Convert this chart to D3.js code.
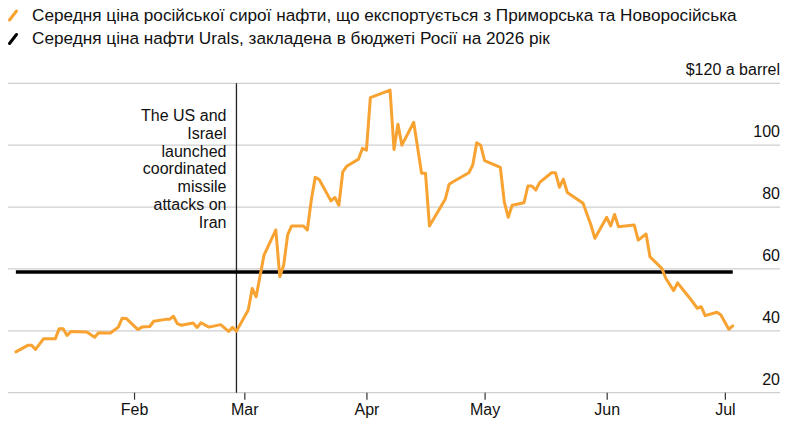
<!DOCTYPE html>
<html>
<head>
<meta charset="utf-8">
<script src="https://cdn.jsdelivr.net/npm/d3@7"></script>
<style>
  body { margin: 0; background: #fff; }
  svg text { font-family: "Liberation Sans", Arial, sans-serif; fill: #111; }
</style>
</head>
<body>
<svg id="chart"></svg>
<script>
// data
var priceDates = [
  "2026-01-02","2026-01-05","2026-01-06","2026-01-07","2026-01-09","2026-01-12","2026-01-13","2026-01-14",
  "2026-01-15","2026-01-16","2026-01-20","2026-01-22","2026-01-23","2026-01-26","2026-01-28","2026-01-29",
  "2026-01-30","2026-02-02","2026-02-03","2026-02-05","2026-02-06","2026-02-09","2026-02-10","2026-02-11",
  "2026-02-12","2026-02-13","2026-02-16","2026-02-17","2026-02-18","2026-02-20","2026-02-23","2026-02-25",
  "2026-02-26","2026-02-27","2026-03-02","2026-03-03","2026-03-04","2026-03-06","2026-03-09","2026-03-10",
  "2026-03-11","2026-03-12","2026-03-13","2026-03-16","2026-03-17","2026-03-18","2026-03-19","2026-03-20",
  "2026-03-23","2026-03-24","2026-03-25","2026-03-26","2026-03-27","2026-03-30","2026-03-31","2026-04-01",
  "2026-04-02","2026-04-07","2026-04-08","2026-04-09","2026-04-10","2026-04-13","2026-04-15","2026-04-16",
  "2026-04-17","2026-04-21","2026-04-22","2026-04-23","2026-04-27","2026-04-28","2026-04-29","2026-04-30",
  "2026-05-01","2026-05-05","2026-05-06","2026-05-07","2026-05-08","2026-05-11","2026-05-12","2026-05-13",
  "2026-05-14","2026-05-15","2026-05-18","2026-05-19","2026-05-20","2026-05-21","2026-05-22","2026-05-26",
  "2026-05-27","2026-05-28","2026-05-29","2026-06-01","2026-06-02","2026-06-03","2026-06-04","2026-06-08",
  "2026-06-09","2026-06-11","2026-06-12","2026-06-15","2026-06-16","2026-06-18","2026-06-19","2026-06-22",
  "2026-06-24","2026-06-25","2026-06-26","2026-06-29","2026-06-30","2026-07-02","2026-07-03"
]
var priceValues = [
  33.2,35.3,35.3,34.0,37.4,37.4,40.7,40.7,
  38.5,39.8,39.6,37.9,39.4,39.3,41.2,44.1,
  44.0,40.4,41.2,41.4,43.1,43.7,43.7,44.7,
  42.3,41.8,42.5,41.1,42.6,41.2,42.0,39.8,
  41.1,39.9,46.7,53.7,51.0,64.5,72.6,57.5,
  61.3,71.0,73.9,73.9,72.6,82.3,89.6,88.9,
  82.0,83.1,80.6,91.4,93.2,95.5,99.0,98.4,
  115.4,117.8,98.6,106.8,100.0,107.4,90.9,90.9,
  73.9,82.5,87.4,88.2,91.1,93.6,100.8,100.0,
  95.0,92.8,81.7,76.7,80.6,81.4,86.8,86.8,
  85.5,88.0,91.1,91.1,86.4,89.0,84.7,81.2,
  77.7,74.2,69.9,76.7,73.9,77.6,73.6,74.2,
  69.3,71.3,63.9,60.2,57.0,53.0,55.5,50.7,
  47.3,47.8,44.9,46.0,45.1,40.5,41.6
]
var budgetPrice = 59
var eventDate = "2026-02-27"
var eventLines = ["The US and", "Israel", "launched", "coordinated", "missile", "attacks on", "Iran"]
var yTicks = [20, 40, 60, 80, 100, 120]
var monthTicks = ["2026-02-01","2026-03-01","2026-04-01","2026-05-01","2026-06-01","2026-07-01"]
var legendLabels = [
  "Середня ціна російської сирої нафти, що експортується з Приморська та Новоросійська",
  "Середня ціна нафти Urals, закладена в бюджеті Росії на 2026 рік"
]
var legendColors = ["#f8a231", "#000"]

var outerWidth = 802, outerHeight = 425
var margins = {top: 83.3, right: 22, bottom: 32.3, left: 8}
var parseDate = d3.utcParse("%Y-%m-%d")

var svg = d3.select("svg#chart")
  .attr("width", outerWidth)
  .attr("height", outerHeight)

var xScale = d3.scaleUtc()
  .domain([parseDate("2025-12-31"), parseDate("2026-07-15")])
  .range([margins.left, outerWidth - margins.right])

var yScale = d3.scaleLinear()
  .domain([20, 120])
  .range([outerHeight - margins.bottom, margins.top])

var data = priceDates.map(function(d, i) {
  return {date: parseDate(d), value: priceValues[i]}
})

// gridlines
svg.append("g")
  .selectAll("line")
  .data(yTicks)
  .join("line")
  .attr("x1", margins.left)
  .attr("x2", outerWidth - margins.right)
  .attr("y1", function(d) { return yScale(d) })
  .attr("y2", function(d) { return yScale(d) })
  .attr("stroke", "#cfcfcf")
  .attr("stroke-width", 1.2)

// y labels, sitting above their gridlines
svg.append("g")
  .selectAll("text")
  .data(yTicks)
  .join("text")
  .attr("x", outerWidth - margins.right)
  .attr("y", function(d) { return yScale(d) - 8 })
  .attr("text-anchor", "end")
  .style("font-size", "16px")
  .text(function(d) { return d === 120 ? "$120 a barrel" : d })

// x axis ticks + month labels
var xAxis = d3.axisBottom(xScale)
  .tickValues(monthTicks.map(parseDate))
  .tickFormat(d3.utcFormat("%b"))
  .tickSize(7)
  .tickPadding(4)

var xAxisG = svg.append("g")
  .attr("class", "x axis")
  .attr("transform", "translate(0," + yScale(20) + ")")
  .call(xAxis)
xAxisG.select(".domain").remove()
xAxisG.selectAll(".tick line").attr("stroke", "#333").attr("stroke-width", 1.2)
xAxisG.selectAll(".tick text")
  .style("font-size", "16px")
  .style("font-family", "'Liberation Sans', Arial, sans-serif")
  .attr("fill", "#111")

// event marker
var ex = xScale(parseDate(eventDate))
svg.append("line")
  .attr("x1", ex).attr("x2", ex)
  .attr("y1", yScale(120))
  .attr("y2", yScale(20))
  .attr("stroke", "#222")
  .attr("stroke-width", 1.3)

svg.append("text")
  .attr("text-anchor", "end")
  .style("font-size", "16px")
  .selectAll("tspan")
  .data(eventLines)
  .join("tspan")
  .attr("x", ex - 10)
  .attr("y", function(d, i) { return 121 + i * 17.8 })
  .text(function(d) { return d })

// budget price line
svg.append("line")
  .attr("x1", xScale(data[0].date))
  .attr("x2", xScale(data[data.length - 1].date))
  .attr("y1", yScale(budgetPrice))
  .attr("y2", yScale(budgetPrice))
  .attr("stroke", "#000")
  .attr("stroke-width", 3.5)

// price line
var line = d3.line()
  .x(function(d) { return xScale(d.date) })
  .y(function(d) { return yScale(d.value) })

svg.append("path")
  .datum(data)
  .attr("d", line)
  .attr("fill", "none")
  .attr("stroke", legendColors[0])
  .attr("stroke-width", 3)
  .attr("stroke-linejoin", "round")
  .attr("stroke-linecap", "round")

// legend
var legend = svg.append("g").selectAll("g")
  .data(legendLabels)
  .join("g")
  .attr("transform", function(d, i) { return "translate(0," + (i * 23.5) + ")" })

legend.append("line")
  .attr("x1", 9.5).attr("y1", 20)
  .attr("x2", 16.5).attr("y2", 11)
  .attr("stroke", function(d, i) { return legendColors[i] })
  .attr("stroke-width", 3)
  .attr("stroke-linecap", "round")

legend.append("text")
  .attr("x", 32)
  .attr("y", 20.5)
  .style("font-size", "17.2px")
  .text(function(d) { return d })
</script>
</body>
</html>
